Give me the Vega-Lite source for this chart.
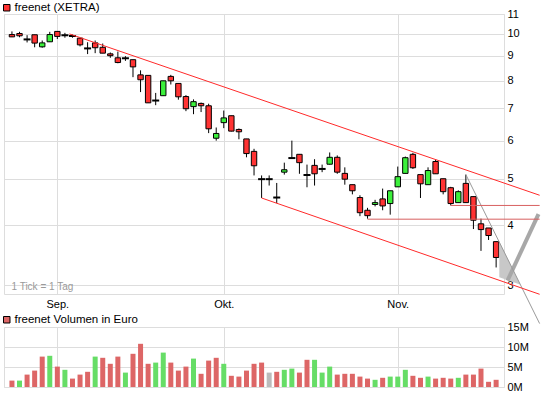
{
  "$schema": "https://vega.github.io/schema/vega-lite/v6.json",
  "padding": {"left": 0, "top": 1, "right": 0, "bottom": 0},
  "background": "white",
  "bounds": "flush",
  "spacing": 33,
  "config": {
    "font": "Liberation Sans",
    "view": {"stroke": "#dddddd", "strokeWidth": 1},
    "axis": {"gridColor": "#dddddd", "gridWidth": 1, "labelColor": "black", "labelFontSize": 11, "domain": false, "ticks": false, "labelOverlap": false, "labelFlush": false}
  },
  "resolve": {"scale": {"x": "independent", "color": "independent", "fill": "independent"}, "legend": {"color": "independent", "fill": "independent"}},
  "datasets": {
    "candles": [
      {"i":0,"o":9.97,"h":10.12,"l":9.85,"c":9.86,"dir":"down","vol":1600000,"vdir":"down"},
      {"i":1,"o":10.02,"h":10.10,"l":9.84,"c":9.91,"dir":"down","vol":1600000,"vdir":"up"},
      {"i":2,"o":9.74,"h":9.94,"l":9.60,"c":9.74,"dir":"doji","vol":3100000,"vdir":"down"},
      {"i":3,"o":9.96,"h":9.96,"l":9.38,"c":9.57,"dir":"down","vol":4100000,"vdir":"down"},
      {"i":4,"o":9.40,"h":9.69,"l":9.36,"c":9.58,"dir":"up","vol":7600000,"vdir":"down"},
      {"i":5,"o":9.63,"h":10.10,"l":9.63,"c":9.97,"dir":"up","vol":7800000,"vdir":"up"},
      {"i":6,"o":10.12,"h":10.12,"l":9.76,"c":9.88,"dir":"down","vol":5100000,"vdir":"down"},
      {"i":7,"o":9.94,"h":10.05,"l":9.82,"c":9.94,"dir":"doji","vol":4300000,"vdir":"up"},
      {"i":8,"o":9.90,"h":9.97,"l":9.82,"c":9.90,"dir":"doji","vol":2100000,"vdir":"down"},
      {"i":9,"o":9.80,"h":9.80,"l":9.42,"c":9.49,"dir":"down","vol":3100000,"vdir":"down"},
      {"i":10,"o":9.33,"h":9.61,"l":9.08,"c":9.33,"dir":"doji","vol":3800000,"vdir":"down"},
      {"i":11,"o":9.58,"h":9.69,"l":9.12,"c":9.36,"dir":"down","vol":7600000,"vdir":"up"},
      {"i":12,"o":9.38,"h":9.55,"l":9.12,"c":9.12,"dir":"down","vol":7300000,"vdir":"down"},
      {"i":13,"o":9.09,"h":9.15,"l":8.92,"c":9.01,"dir":"down","vol":5800000,"vdir":"down"},
      {"i":14,"o":8.92,"h":9.19,"l":8.69,"c":8.72,"dir":"down","vol":7600000,"vdir":"down"},
      {"i":15,"o":8.90,"h":8.99,"l":8.79,"c":8.90,"dir":"doji","vol":3600000,"vdir":"up"},
      {"i":16,"o":8.84,"h":8.84,"l":8.13,"c":8.54,"dir":"down","vol":8300000,"vdir":"down"},
      {"i":17,"o":8.22,"h":8.40,"l":7.57,"c":8.03,"dir":"down","vol":10800000,"vdir":"down"},
      {"i":18,"o":8.20,"h":8.20,"l":7.19,"c":7.19,"dir":"down","vol":5800000,"vdir":"down"},
      {"i":19,"o":7.27,"h":7.54,"l":7.11,"c":7.27,"dir":"doji","vol":6100000,"vdir":"up"},
      {"i":20,"o":7.44,"h":7.99,"l":7.44,"c":7.99,"dir":"up","vol":8600000,"vdir":"up"},
      {"i":21,"o":8.16,"h":8.22,"l":7.85,"c":7.99,"dir":"down","vol":6100000,"vdir":"down"},
      {"i":22,"o":7.89,"h":7.89,"l":7.30,"c":7.40,"dir":"down","vol":4100000,"vdir":"down"},
      {"i":23,"o":7.41,"h":7.46,"l":6.91,"c":6.99,"dir":"down","vol":5100000,"vdir":"down"},
      {"i":24,"o":7.06,"h":7.31,"l":6.81,"c":7.23,"dir":"up","vol":7100000,"vdir":"up"},
      {"i":25,"o":7.17,"h":7.20,"l":6.88,"c":7.09,"dir":"down","vol":3300000,"vdir":"down"},
      {"i":26,"o":7.09,"h":7.16,"l":6.22,"c":6.35,"dir":"down","vol":6600000,"vdir":"down"},
      {"i":27,"o":6.07,"h":6.39,"l":6.00,"c":6.21,"dir":"up","vol":7300000,"vdir":"down"},
      {"i":28,"o":6.54,"h":6.93,"l":6.37,"c":6.69,"dir":"up","vol":5800000,"vdir":"up"},
      {"i":29,"o":6.76,"h":6.76,"l":6.27,"c":6.28,"dir":"down","vol":2800000,"vdir":"down"},
      {"i":30,"o":6.33,"h":6.36,"l":6.04,"c":6.26,"dir":"down","vol":2600000,"vdir":"down"},
      {"i":31,"o":6.05,"h":6.05,"l":5.54,"c":5.64,"dir":"down","vol":4100000,"vdir":"down"},
      {"i":32,"o":5.70,"h":5.77,"l":5.08,"c":5.32,"dir":"down","vol":5800000,"vdir":"down"},
      {"i":33,"o":4.99,"h":5.08,"l":4.56,"c":4.99,"dir":"doji","vol":6100000,"vdir":"down"},
      {"i":34,"o":4.99,"h":5.08,"l":4.84,"c":4.99,"dir":"doji","vol":3600000,"vdir":"flat"},
      {"i":35,"o":4.57,"h":4.90,"l":4.45,"c":4.57,"dir":"doji","vol":3800000,"vdir":"down"},
      {"i":36,"o":5.16,"h":5.40,"l":5.10,"c":5.22,"dir":"up","vol":4300000,"vdir":"up"},
      {"i":37,"o":5.52,"h":6.00,"l":5.51,"c":5.52,"dir":"doji","vol":4600000,"vdir":"up"},
      {"i":38,"o":5.62,"h":5.62,"l":5.12,"c":5.40,"dir":"down","vol":3600000,"vdir":"down"},
      {"i":39,"o":5.09,"h":5.35,"l":4.80,"c":5.09,"dir":"doji","vol":6800000,"vdir":"down"},
      {"i":40,"o":5.33,"h":5.49,"l":4.84,"c":5.12,"dir":"down","vol":6800000,"vdir":"up"},
      {"i":41,"o":5.24,"h":5.35,"l":5.16,"c":5.24,"dir":"doji","vol":3600000,"vdir":"up"},
      {"i":42,"o":5.36,"h":5.67,"l":5.35,"c":5.54,"dir":"up","vol":5100000,"vdir":"up"},
      {"i":43,"o":5.54,"h":5.59,"l":5.12,"c":5.16,"dir":"down","vol":3100000,"vdir":"down"},
      {"i":44,"o":5.13,"h":5.28,"l":4.86,"c":4.99,"dir":"down","vol":3300000,"vdir":"down"},
      {"i":45,"o":4.86,"h":4.86,"l":4.64,"c":4.72,"dir":"down","vol":3300000,"vdir":"down"},
      {"i":46,"o":4.57,"h":4.62,"l":4.18,"c":4.25,"dir":"down","vol":2600000,"vdir":"down"},
      {"i":47,"o":4.30,"h":4.35,"l":4.13,"c":4.19,"dir":"down","vol":2100000,"vdir":"down"},
      {"i":48,"o":4.42,"h":4.52,"l":4.38,"c":4.46,"dir":"up","vol":1800000,"vdir":"up"},
      {"i":49,"o":4.54,"h":4.77,"l":4.30,"c":4.39,"dir":"down","vol":2300000,"vdir":"down"},
      {"i":50,"o":4.44,"h":4.72,"l":4.21,"c":4.72,"dir":"up","vol":2600000,"vdir":"up"},
      {"i":51,"o":4.81,"h":5.30,"l":4.81,"c":5.05,"dir":"up","vol":2600000,"vdir":"up"},
      {"i":52,"o":5.13,"h":5.56,"l":5.13,"c":5.53,"dir":"up","vol":4300000,"vdir":"up"},
      {"i":53,"o":5.62,"h":5.66,"l":5.24,"c":5.27,"dir":"down","vol":2800000,"vdir":"down"},
      {"i":54,"o":5.10,"h":5.10,"l":4.56,"c":4.88,"dir":"down","vol":2300000,"vdir":"down"},
      {"i":55,"o":4.86,"h":5.28,"l":4.86,"c":5.20,"dir":"up","vol":2600000,"vdir":"up"},
      {"i":56,"o":5.43,"h":5.48,"l":5.12,"c":5.12,"dir":"down","vol":2100000,"vdir":"down"},
      {"i":57,"o":5.00,"h":5.00,"l":4.64,"c":4.70,"dir":"down","vol":2300000,"vdir":"down"},
      {"i":58,"o":4.79,"h":4.81,"l":4.40,"c":4.44,"dir":"down","vol":2100000,"vdir":"down"},
      {"i":59,"o":4.46,"h":4.73,"l":4.46,"c":4.70,"dir":"up","vol":2300000,"vdir":"up"},
      {"i":60,"o":4.89,"h":5.10,"l":4.46,"c":4.46,"dir":"down","vol":3100000,"vdir":"down"},
      {"i":61,"o":4.59,"h":4.59,"l":3.93,"c":4.10,"dir":"down","vol":3100000,"vdir":"down"},
      {"i":62,"o":4.03,"h":4.13,"l":3.54,"c":3.92,"dir":"down","vol":4600000,"vdir":"down"},
      {"i":63,"o":3.95,"h":3.95,"l":3.73,"c":3.81,"dir":"down","vol":1300000,"vdir":"down"},
      {"i":64,"o":3.70,"h":3.70,"l":3.27,"c":3.43,"dir":"down","vol":1800000,"vdir":"down"}
    ],
    "channel": [
      {"line":"upper","i":7.6,"p":10.0},
      {"line":"upper","i":69.75,"p":4.62},
      {"line":"lower","i":33,"p":4.56},
      {"line":"lower","i":69.75,"p":2.876}
    ],
    "support": [
      {"line":"s1","i":58,"p":4.40},
      {"line":"s1","i":69.75,"p":4.40},
      {"line":"s2","i":47,"p":4.12},
      {"line":"s2","i":69.75,"p":4.12}
    ],
    "trend": [
      {"i":60,"p":5.10},
      {"i":69.75,"p":2.50}
    ],
    "cone": [
      {"i":64.42,"top":3.70,"bottom":3.12},
      {"i":67.23,"top":3.01,"bottom":3.01}
    ],
    "arrow": [
      {"i":65.5,"p":3.07},
      {"i":69.6,"p":4.22}
    ]
  },
  "vconcat": [
    {
      "width": 500,
      "height": 280,
      "layer": [
        {
          "data": {"name": "candles"},
          "mark": {"type": "rule", "color": "black", "strokeWidth": 1},
          "encoding": {
            "x": {"field": "i", "type": "quantitative",
                  "scale": {"domain": [-0.39, 64.38], "nice": false, "zero": false},
                  "axis": {"values": [6, 28, 51], "labelExpr": "datum.value == 6 ? 'Sep.' : datum.value == 28 ? 'Okt.' : 'Nov.'", "grid": true, "labelPadding": 4,
                           "title": "1 Tick = 1 Tag", "titleX": 7, "titleY": -8, "titleAlign": "left", "titleBaseline": "middle", "titleColor": "#9a9a9a", "titleFontSize": 10, "titleFontWeight": "normal"}},
            "y": {"field": "l", "type": "quantitative",
                  "scale": {"type": "log", "domain": [2.88, 11], "nice": false},
                  "axis": {"orient": "right", "values": [3,4,5,6,7,8,9,10,11], "grid": true, "labelPadding": 3, "title": null}},
            "y2": {"field": "h"}
          }
        },
        {
          "data": {"name": "candles"},
          "transform": [{"filter": "datum.dir != 'doji'"}],
          "mark": {"type": "bar", "width": 5.4, "stroke": "black", "strokeWidth": 1},
          "encoding": {
            "x": {"field": "i", "type": "quantitative"},
            "y": {"field": "o", "type": "quantitative"},
            "y2": {"field": "c"},
            "fill": {"field": "dir", "type": "nominal",
                     "scale": {"domain": ["up", "down"], "range": ["#3cf03c", "#ff3333"]},
                     "legend": {"values": ["down"], "labelExpr": "'freenet (XETRA)'", "title": null, "orient": "none", "legendX": -3, "legendY": -12,
                                "symbolType": "square", "symbolSize": 42, "symbolStrokeColor": "black", "symbolStrokeWidth": 1, "symbolFillColor": "#ff3333",
                                "labelFontSize": 11.5, "labelColor": "black", "labelOffset": 2, "padding": 0}}
          }
        },
        {
          "data": {"name": "candles"},
          "transform": [{"filter": "datum.dir == 'doji'"}],
          "mark": {"type": "tick", "orient": "horizontal", "thickness": 2, "size": 7, "color": "black", "opacity": 1},
          "encoding": {
            "x": {"field": "i", "type": "quantitative"},
            "y": {"field": "o", "type": "quantitative"}
          }
        },
        {
          "data": {"name": "cone"},
          "mark": {"type": "area", "color": "#c8c8c8", "opacity": 1, "clip": false},
          "encoding": {
            "x": {"field": "i", "type": "quantitative"},
            "y": {"field": "top", "type": "quantitative"},
            "y2": {"field": "bottom"}
          }
        },
        {
          "data": {"name": "arrow"},
          "mark": {"type": "line", "color": "#a8a8a8", "strokeWidth": 4, "clip": false},
          "encoding": {
            "x": {"field": "i", "type": "quantitative"},
            "y": {"field": "p", "type": "quantitative"}
          }
        },
        {
          "data": {"name": "trend"},
          "mark": {"type": "line", "color": "#9a9a9a", "strokeWidth": 1, "clip": false},
          "encoding": {
            "x": {"field": "i", "type": "quantitative"},
            "y": {"field": "p", "type": "quantitative"}
          }
        },
        {
          "data": {"name": "support"},
          "mark": {"type": "line", "color": "#d86060", "strokeWidth": 1, "clip": false},
          "encoding": {
            "x": {"field": "i", "type": "quantitative"},
            "y": {"field": "p", "type": "quantitative"},
            "detail": {"field": "line", "type": "nominal"}
          }
        },
        {
          "data": {"name": "channel"},
          "mark": {"type": "line", "color": "#ff2a2a", "strokeWidth": 1, "clip": false},
          "encoding": {
            "x": {"field": "i", "type": "quantitative"},
            "y": {"field": "p", "type": "quantitative"},
            "detail": {"field": "line", "type": "nominal"}
          }
        }
      ]
    },
    {
      "width": 500,
      "height": 60,
      "data": {"name": "candles"},
      "mark": {"type": "bar", "width": 5},
      "encoding": {
        "x": {"field": "i", "type": "quantitative",
              "scale": {"domain": [-0.39, 64.38], "nice": false, "zero": false},
              "axis": {"values": [6, 28, 51], "grid": true, "labels": false, "title": null}},
        "y": {"field": "vol", "type": "quantitative",
              "scale": {"domain": [0, 15000000], "nice": false},
              "axis": {"orient": "right", "values": [0, 5000000, 10000000, 15000000], "labelExpr": "(datum.value / 1000000) + 'M'", "grid": true, "labelPadding": 3, "title": null}},
        "color": {"field": "vdir", "type": "nominal",
                  "scale": {"domain": ["up", "down", "flat"], "range": ["#66dd66", "#dd6666", "#bbbbbb"]},
                  "legend": {"values": ["down"], "labelExpr": "'freenet Volumen in Euro'", "title": null, "orient": "none", "legendX": -3, "legendY": -13,
                             "symbolType": "square", "symbolSize": 42, "symbolStrokeColor": "black", "symbolStrokeWidth": 1,
                             "labelFontSize": 11.5, "labelColor": "black", "labelOffset": 2, "padding": 0}}
      }
    }
  ]
}
